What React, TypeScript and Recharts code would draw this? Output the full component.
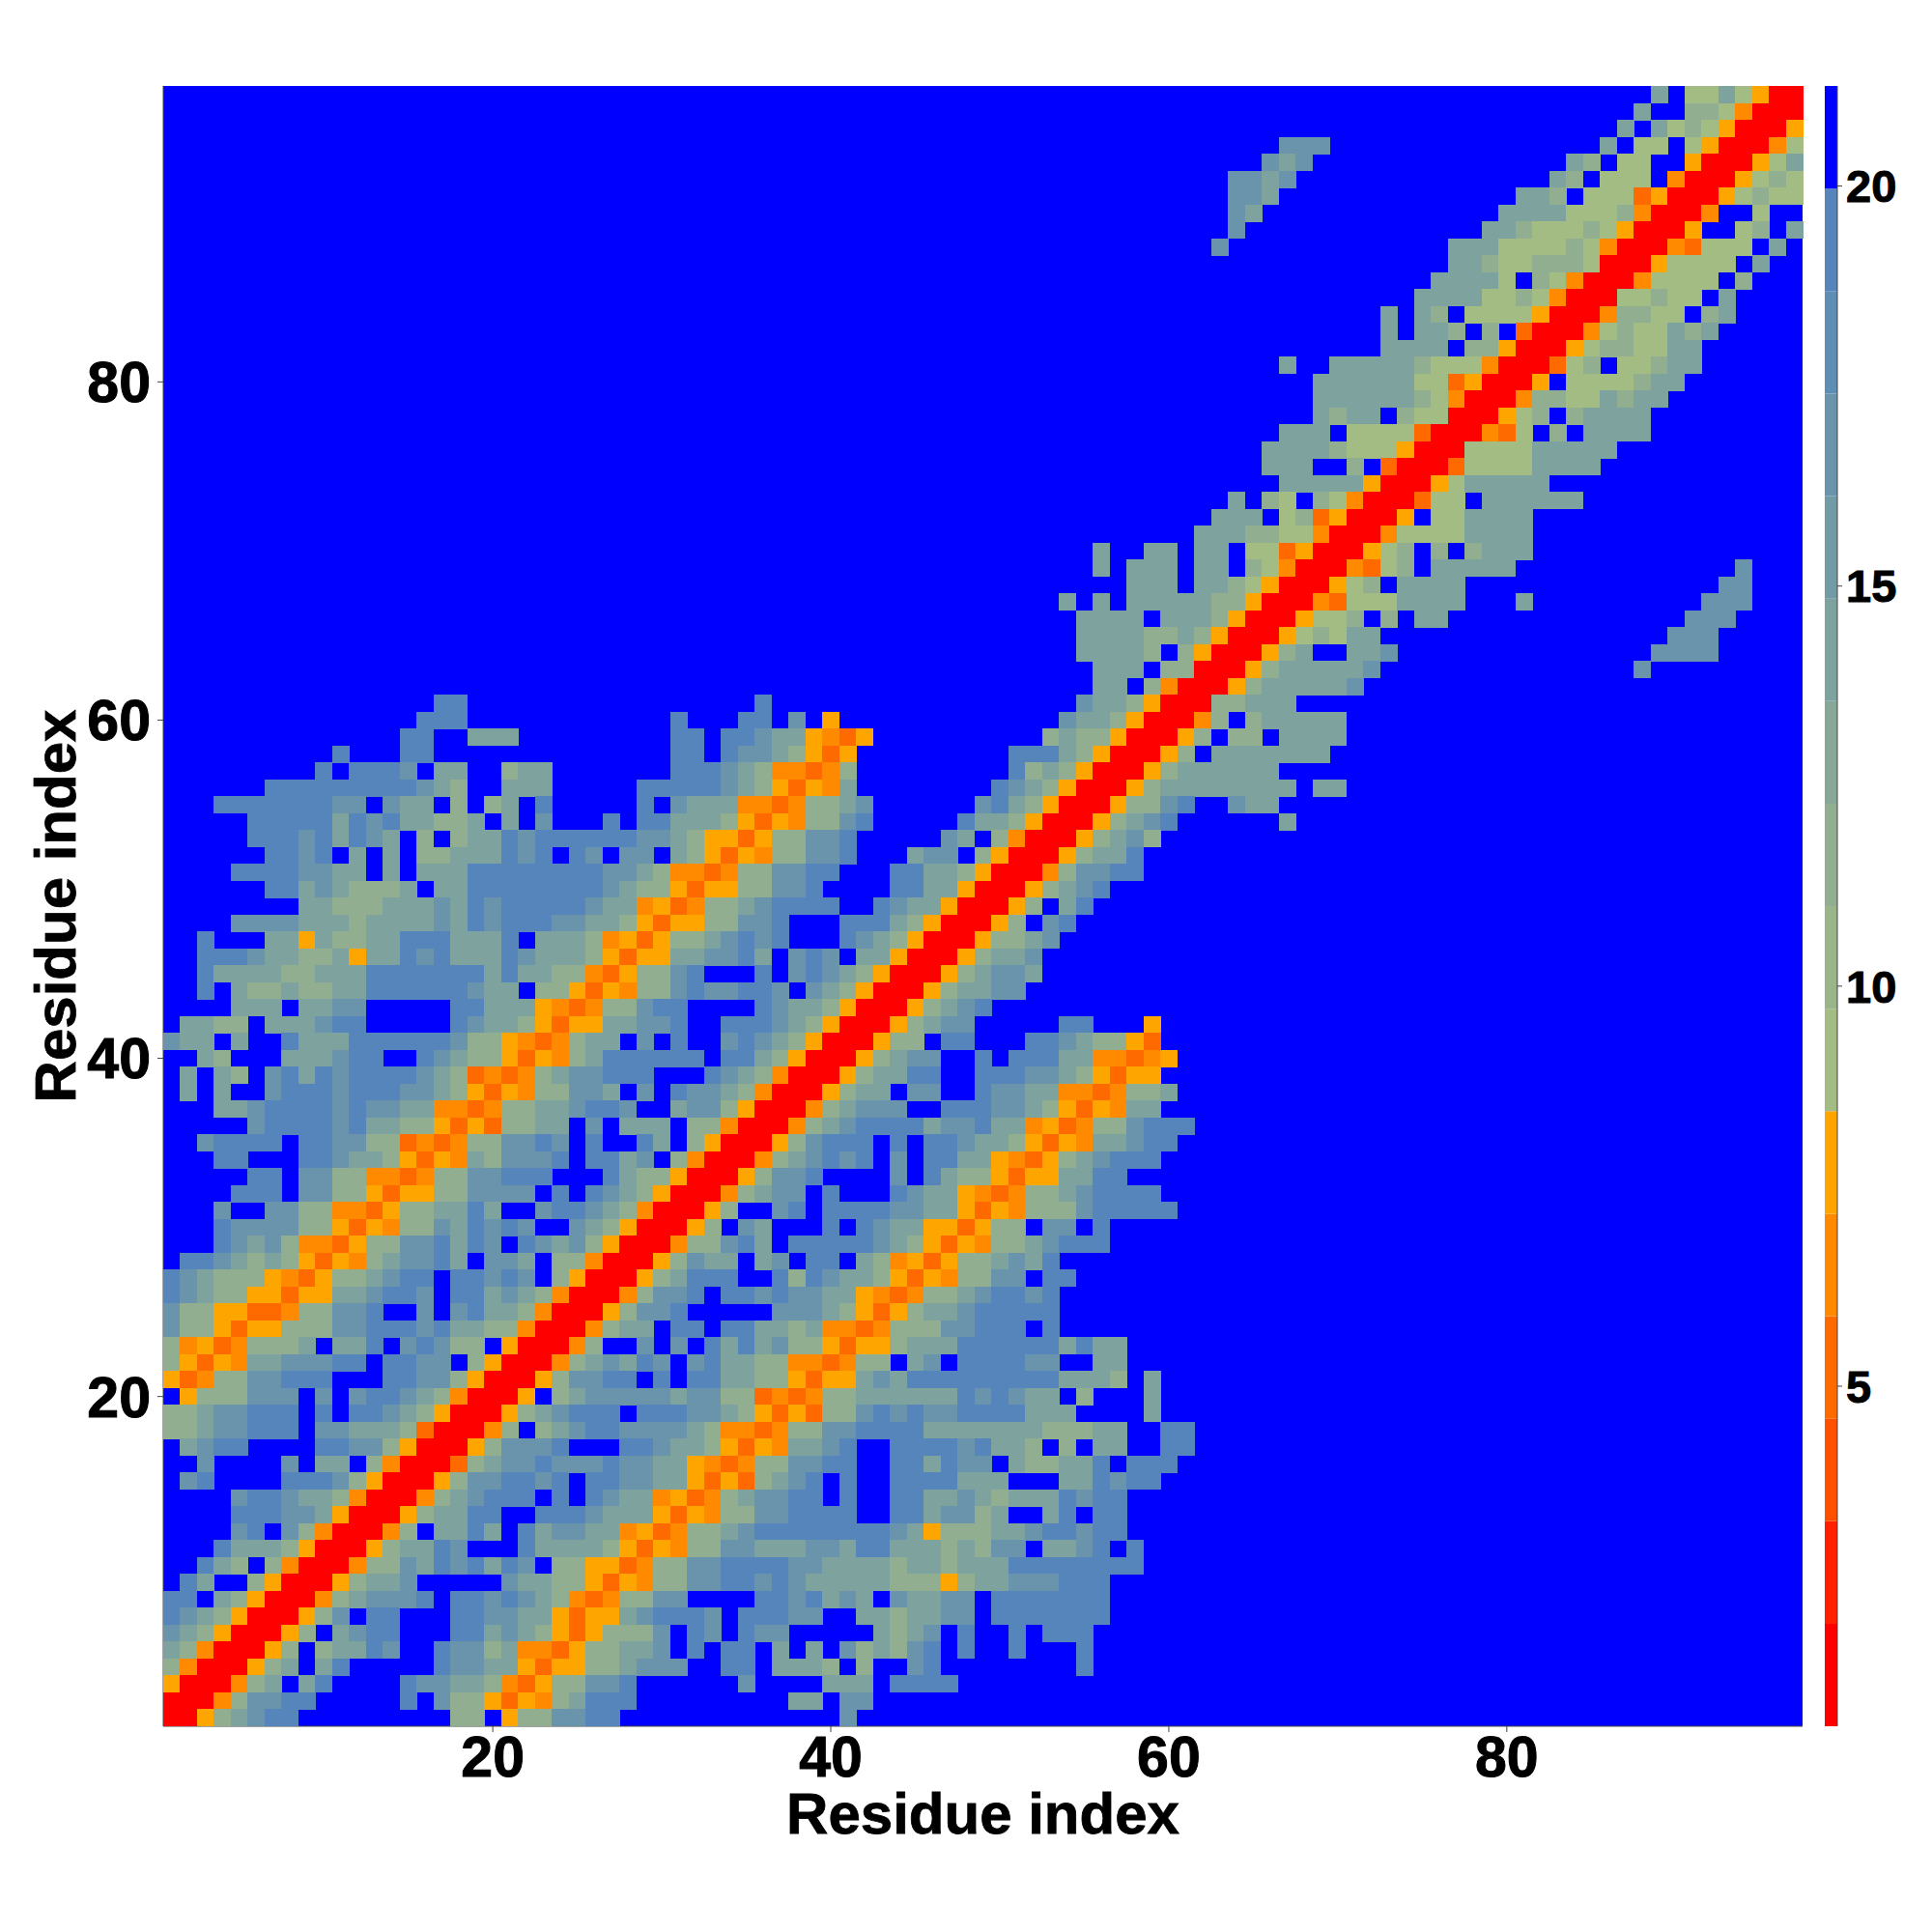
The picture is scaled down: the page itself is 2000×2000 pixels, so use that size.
import { Bar, BarChart, CartesianGrid, Scatter, ScatterChart, XAxis, YAxis } from 'recharts';

// Rows run top to bottom. Each space separated piece may start with "col:", "." is an empty (blue) cell
const lowerLeft = [
  '....iii.ggccADAAccgggg.i.igecARR',
  '...g..ggccOODAcceeie..giigecORRR',
  '...iggggccADAOccgeigig..gecARRRA',
  '...igegcOODAccggieig.igegcARRROc',
  '.iigececADAOceggie.gge.ccORRRAcg',
  'igecccAODAccegii.iigig.cARRRAcei',
  'igeccAADAAeegiig.iiegecORRROcggi',
  'gccAADDOccggi..g.gieecORRRAcggi.',
  'gccADAAcccggiiigieeccORRROcee.ii',
  'cOADOccce.eei.gigcc.ARRROc..g.g.',
  'cADAOeegggii.iigg.cARRROcegeig.g',
  'ADOccggiii...iiggcARRRAcggii.i.i',
  '.Acccggg.g.giigecORRRA.cegggggeg',
  'cceggiii.i.iigecARRRAcegiii.iiig',
  'cceggiii.ggeeecDRRROc.cegiigggge',
  '.egii....iiggcARRRAcgggi...iigee',
  '..g....g.ee.cORRRDceggigggiggeeA',
  '.gi....iiigcARRRAcggiigi.iiggeeA',
  '....giigeecORRROcegiii.i.igeeOAD',
  '....iiiggeARRRAceeii..iiigeeeADA',
  '....gi.gcORRROc.eeie.ieggeeOADOc',
  '...ieeecARRRAceeig...ieeeecADAOc',
  '..iec.cORRROccgeigieig.ccAADOccg',
  '.ie..cARRRAceeg.....geeccADAOccg',
  'ii.ecARRROcegggi.iigigecODOccgg.',
  'igecARRRAcg.ii...iiggeeADAAegiii',
  'gecARRRAc.egii...iiegecADAcccg.i',
  'ecORRRAc.ceeig..iggceOODAcceeg.i',
  'cORRRAce.ei.....iggeeADAAcceggg.',
  'ARRROce.ei....iggeecODAccggi....',
  'RRROcggii.....i.gccADAOceiii....',
  'RRAcegii.........cc.Accggii.....',
];

const lowerMiddle = [
  'ROcegg.i...igeeAODOccegiiii',
  'Ac..gi.iiiiggeeADAOcccgiiiii',
  'c.ge...i.igeeAADAcc.gg.i',
  'cgie.iiiiigecADAOccegiii',
  'ee.eg.ii.ecOADAccegei',
  'ii..icigeecADAOccgg.ii',
  '.iigiggeeAODOccegiigi',
  '....gggecADAceegiiiii',
  '.iieeceOODOcccggiii.i',
  'ieiegccADAAceeeiiiiiieiee',
  'ieeccOODOcc.eg.iiiigg..ee',
  'ieeccADAAegeiiiiiiiiieeec.e',
  'gccDODOcceeeeeeigigee.c...e',
  'gecADADccgigiggiiiieee....e',
  'cOODOccggiiiieeeeeeecccee..ii',
  'cADAOeegi..iiiigieec.c.ee..ii',
  'ODOccggii..iieigg.ecceei.iii',
  'DADcegi.i..iiiieee...eeigii',
  'Oceggii.i..iieegeceeeigii',
  'Occggiiii..iieggce..ei.ii',
  'cegiiiiiiiigeAccceegiigii',
  'cggeeeggeiieeececgg.eegi.i',
  'giiiiggeeeeceeceeeiiiiiiii',
  'giigigeeeeecccAceegggiii',
  '...iigiege.geegg.iiiiiii',
  'g.iiigg..eeceegg.iiiiiii',
  'g.igg.....eceg.i..i.iii',
  '.ii.e.e.gcecgi.i..i...i',
  '.ii.eeec.c..gi........i',
  '..g....eee.iiii',
  '.....ee.gg',
  '........g',
];

const middleLeft = [
  '',
  '',
  '',
  '17:ii',
  '16:iii 31:i',
  '15:ii 19:eee 31:ii',
  '11:i 15:ii 31:ii',
  '10:i.iiig.ee..cee 31:ii',
  '7:iiiiiiiiigec..eee 29:iiii',
  '...iiiiiiigg.gee.c.ce.i.....i.ge',
  '.....iiiiieigieecce.e.g...i.iiee',
  '.....iiigieige.c.ceeigiiiiiiggec',
  '......iigi.e.e.cceeeigi.ig.gg.ec',
  '....iiiiggee.e.eeeiiiiiiiiggecOO',
  '......iiegeccce.eeiiiiiiiigeccAD',
  '........eeccceeegeigiiiiigeeOADO',
  '....ggggeeeceeeegeigiiiggeecADAA',
  '..i...eeAecceeiiieeei.eeecOADAcc',
  '..iiigeecceAeeigieeeigeeecADAAee',
  '..ieeeecceeeiiiiiiieieeccODAccgi',
  '..i.eccecceeiiiiiigee.ccADAOccgi',
  '....eee.eegg.....iieeeAODOccgii.',
  '.eecc.eeegii.....igeecADAAeeggi.',
  'gee.e..ieeeiiiiiigccAODOcee.g.i.',
  '..ec...eeegii..igeccADAOceiiiiii',
  '.e.ec.gieigiiiigecDODOceggiii...',
  '.e.e..giiigiiiggecADAOccgge.g.ig',
  '...eegiiiigiggeeOODOcceegiig..eg',
  '.....giiiigieeccADADccee.g.eee.c',
  '..giiii.iiggccDODOccggig.i..ie.c',
  '...ii...iigeecADAOecgggi.iieg.cO',
  '.....ii.ggccOODOccggiii...ieccAR',
];

const middleCenter = [
  '23:eeeec.cARR',
  '24:eee.ccRRR',
  '24:ee.cORRRA',
  '4:i 23:geecARRRcc',
  '3:ii 6:g 8:A 22:geecARRROc',
  '2:iigeeAODA 21:ceccARRRAc.c',
  '2:iggecADA 19:iiiecARRRAc.ee',
  'igecOODOc 19:icecARRRAceeee',
  'igecADAOe 18:igecARRRAceeeee',
  'eeOODOcceg 17:giecARRRAccgi..g',
  'ecADAOccgi 16:ieecARRRAcegi',
  'AADAccggi 15:ge.cORRRAcegc',
  'ADAOccggi 13:egg.cARRRAceei',
  'DOccggii 12:iieecARRROcggii',
  'AAccggi 12:iieeARRRAcegi',
  'ccegiiii..igeeARRRAc.ei',
  'ccggi...iiiecARRRAc.gi',
  'egigi...igecARRRAcceg',
  'ggie.gig.eeARRRAceeg',
  '4:i 6:gigecARRRAcegge',
  'ggiig.gecARRRAceegg',
  '4:igeecARRRAcegi',
  '2:iiigecARRRAcegg 22:ii 27:A',
  '2:gigecARRRAcc.ii...iigeccAD',
  '2:iiecARRRAcegg..i.iiieeOODOA',
  'igecORRRAceeii..iiiggecADAA',
  'gecORRRAcee.gg..iggeeOODOcce',
  'gcARRROceggg..iiiggecADAOee',
  'cORRROcegiiiieggieeOADOccgiii',
  'ARRRAcgiii.i.iigeecADAOeegii',
  'RRROcegigi.g.iieeAODAcegiii',
  'RRAcggi....g.ieccADAAeeii',
];

const middleRight = [
  'RAce..eeg 25:gggg',
  'Aceeeeeg 24:g',
  'ceeeeeg',
  'eee',
  'ceeeee',
  'c.eeee',
  'eeeee',
  'ee',
  'eee.ee',
  'ee',
  '3:e',
];

const upperMiddle = [
  '', '', '', '', '',
  '32:g', '32:g', '32:g', '32:g', '31:g',
  '', '', '', '', '', '', '', '', '', '', '', '', '', '',
  '32:e',
  '31:ee',
  '30:eee',
  '24:e 27:ee 30:ee',
  '24:e 26:eee 30:ee',
  '26:eee 30:eec',
  '22:e 24:e 26:eeeeecc',
  '23:eeee 28:eeecA',
  '23:eeeeccecAR',
];

const upperRight = [
  '25:e.aaeaARR',
  '24:e..ccaORRR',
  '23:e.eacaARRRA',
  '3:ggg 22:e.aa.aARRROa',
  '2:geg 20:ec.aa..ARRRAae',
  'geg 19:ec.aaa.ORRRAaca',
  'ge 17:eec.aaaDARRRAacaa',
  'e 16:eeeeaaacORRRO..a..',
  '15:eecaaacaARRRA..ac.e',
  '13:eeeaaaacaORRRODaaa.e.',
  '13:eecaacccaRRRAaaaa.e',
  '12:eeeea.caORRROaaaa.c',
  '11:eeeeaacaORRRaacaa.e',
  '9:e.ec.aaaaARRROccaa.ce',
  '9:e.eec.c.DRRROacaaece',
  '9:eeee.ccARRRAaccaaee',
  '3:e 6:eeeeecaaaORRRDac.aacee',
  '5:eeeeeeaaDARRRA.aaaacee',
  '5:eeeeeecaORRROccaaecee',
  '5:ecee.caaRRRAac.ceeee',
  '3:eee.aaaaDRRRODa.c.eeee',
  '2:eeeecaaaARRRaaaaeeeee',
  '2:eee..c.DRRRDaaaaeeee',
  '3:eeeeeARRRAaeeeee',
  '2:ca.caORRRDaa.eeeeee',
  'e.acDARRRA.aaeeee',
  'ccaaORRROaaaaeeee',
  'aaDARRRAac.c.ceee',
  'caORRRODac.eeeee 30:g',
  'aARRRAac.eeee 29:gg',
  'ARRRODaaaeeee...e 28:ggg',
  'RRRAaac.c.ee 27:ggg',
  'RRAacaee 26:ggg',
];

const axisTicks = [20, 40, 60, 80];
const colorbarTicks = [5, 10, 15, 20];
const levelCodes = 'RSTDOAabcdefghi.';
const levelColors = [
  '#ff0000', '#ff2000', '#ff5000', '#ff6a00', '#ff8a00', '#ffa500', '#a3bc84', '#9ab58a',
  '#92ae90', '#87a898', '#7ea29e', '#739ba6', '#6a94ac', '#5f8eb4', '#5585bb', '#0000ff',
];
const colorbarBase = 0.75;
const colorbarStep = 1.28125;

const blocks = [
  { rows: lowerLeft, firstX: 1, topY: 32 },
  { rows: lowerMiddle, firstX: 33, topY: 32 },
  { rows: middleLeft, firstX: 1, topY: 64 },
  { rows: middleCenter, firstX: 33, topY: 64 },
  { rows: middleRight, firstX: 65, topY: 64 },
  { rows: upperMiddle, firstX: 33, topY: 97 },
  { rows: upperRight, firstX: 65, topY: 97 },
];

const cells: { x: number; y: number; level: number }[] = [];
blocks.forEach(({ rows, firstX, topY }) => {
  rows.forEach((row, r) => {
    row.split(' ').forEach((piece) => {
      if (!piece) return;
      const parts = piece.split(':');
      const start = parts.length > 1 ? Number(parts[0]) : 1;
      const codes = parts[parts.length - 1];
      [...codes].forEach((code, c) => {
        if (code === '.') return;
        cells.push({ x: firstX + start - 1 + c, y: topY - r, level: levelCodes.indexOf(code) });
      });
    });
  });
});

const colorbarRow: Record<string, number> = { base: colorbarBase };
levelColors.forEach((_, i) => {
  colorbarRow[`level${i}`] = colorbarStep;
});

function HeatCell({ cx, cy, payload }: any) {
  return (
    <rect
      x={cx - 8.75}
      y={cy - 8.75}
      width={18}
      height={18}
      fill={levelColors[payload.level]}
      shapeRendering="crispEdges"
    />
  );
}

const font = 'Liberation Sans';
const tickStyle = { fontFamily: font, fontWeight: 700, fontSize: 59, fill: '#000', stroke: '#000', strokeWidth: 1 };
const labelStyle = { fontFamily: font, fontWeight: 700, fontSize: 60, fill: '#000', stroke: '#000', strokeWidth: 0.8, textAnchor: 'middle' };
const edge = { stroke: '#444', strokeWidth: 1 };

export default function App() {
  return (
    <div style={{ position: 'absolute', left: 0, top: 0, width: 2000, height: 2000, background: '#fff' }}>
      <div style={{ position: 'absolute', left: 0, top: 0 }}>
        <ScatterChart width={2000} height={2000} margin={{ top: 89, right: 134, bottom: 113, left: 69 }}>
          <CartesianGrid horizontal={false} vertical={false} fill="#0000ff" />
          <XAxis
            dataKey="x"
            type="number"
            domain={[0.5, 97.5]}
            ticks={axisTicks}
            height={100}
            axisLine={edge}
            tickLine={edge}
            tickSize={6}
            tick={tickStyle}
            tickMargin={4}
            label={{ value: 'Residue index', position: 'bottom', offset: -32, style: labelStyle }}
          />
          <XAxis
            xAxisId="top"
            orientation="top"
            type="number"
            domain={[0.5, 97.5]}
            ticks={axisTicks}
            height={0}
            axisLine={edge}
            tickLine={edge}
            tickSize={6}
            tick={false}
          />
          <YAxis
            dataKey="y"
            type="number"
            domain={[0.5, 97.5]}
            ticks={axisTicks}
            width={100}
            axisLine={edge}
            tickLine={edge}
            tickSize={6}
            tick={tickStyle}
            tickMargin={7}
            label={{ value: 'Residue index', angle: -90, position: 'left', offset: 12, style: labelStyle }}
          />
          <YAxis
            yAxisId="right"
            orientation="right"
            type="number"
            domain={[0.5, 97.5]}
            ticks={axisTicks}
            width={0}
            axisLine={edge}
            tickLine={edge}
            tickSize={6}
            tick={false}
          />
          <Scatter data={cells} shape={HeatCell} isAnimationActive={false} />
        </ScatterChart>
      </div>
      <div style={{ position: 'absolute', left: 0, top: 0 }}>
        <BarChart
          width={2000}
          height={2000}
          data={[colorbarRow]}
          barCategoryGap={0}
          margin={{ top: 89, right: 0, bottom: 213, left: 1889 }}
        >
          <XAxis hide />
          <YAxis
            orientation="right"
            type="number"
            domain={[colorbarBase, colorbarBase + colorbarStep * levelColors.length]}
            allowDataOverflow
            ticks={colorbarTicks}
            width={98}
            axisLine={edge}
            tickLine={edge}
            tickSize={5}
            tick={{ ...tickStyle, fontSize: 47, textAnchor: 'start' }}
            tickMargin={4}
          />
          <YAxis
            yAxisId="edge"
            orientation="left"
            type="number"
            domain={[colorbarBase, colorbarBase + colorbarStep * levelColors.length]}
            width={0}
            axisLine={edge}
            tickLine={false}
            tick={false}
          />
          <Bar dataKey="base" stackId="bar" fill="none" isAnimationActive={false} />
          {levelColors.map((color, i) => (
            <Bar key={color} dataKey={`level${i}`} stackId="bar" fill={color} isAnimationActive={false} />
          ))}
        </BarChart>
      </div>
    </div>
  );
}
